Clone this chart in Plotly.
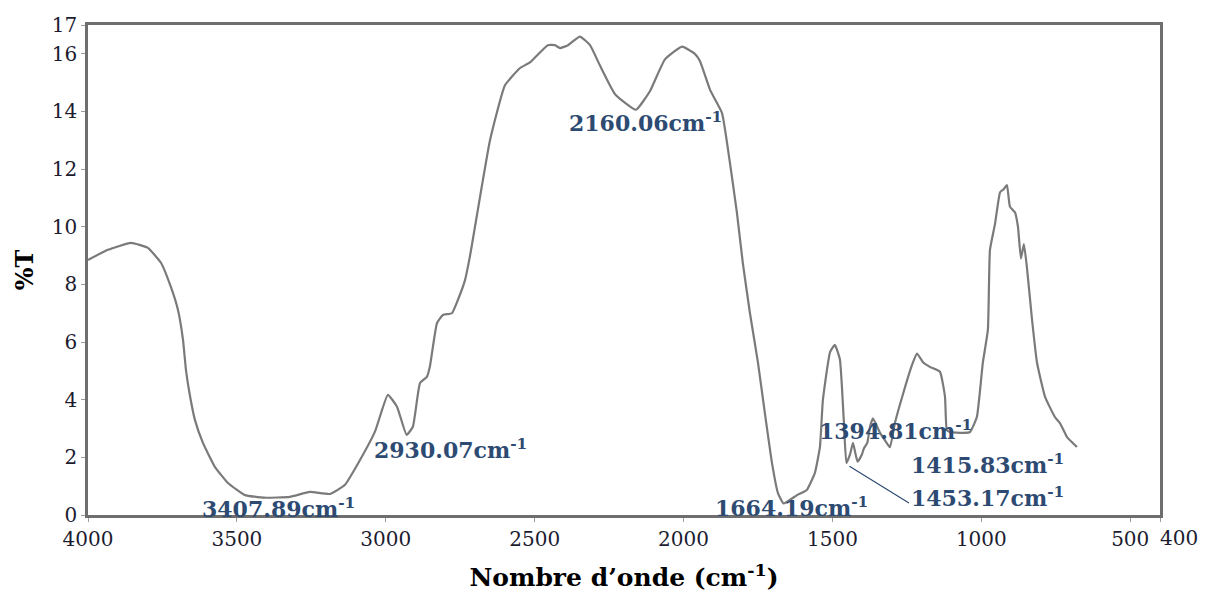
import plotly.graph_objects as go

# FT-IR spectrum: wavenumber (cm-1) vs transmittance (%T)
wavenumber = [4000, 3933, 3856, 3799, 3755, 3722, 3698, 3681, 3671, 3657,
              3641, 3614, 3574, 3530, 3473, 3407.89, 3322, 3255, 3187, 3137,
              3087, 3036, 2993, 2962, 2930.07, 2909, 2885, 2862, 2852, 2828,
              2808, 2778, 2758, 2734, 2717, 2650, 2600, 2550, 2516, 2456,
              2432, 2415, 2388, 2348, 2314, 2281, 2230, 2160.06, 2113, 2063,
              2005, 1962, 1945, 1911, 1871, 1844, 1821, 1801, 1777, 1750,
              1727, 1703, 1683, 1664.19, 1619, 1586, 1559, 1542, 1532, 1508,
              1492, 1475, 1462, 1453.17, 1441, 1431, 1415.83, 1401, 1394.81, 1383,
              1374, 1364, 1340, 1324, 1307, 1290, 1263, 1233, 1216, 1196,
              1173, 1139, 1122, 1116, 1105, 1062, 1038, 1015, 995, 978,
              971, 954, 937, 925, 914, 904, 887, 877, 867, 857,
              847, 830, 813, 786, 753, 736, 712, 679]
transmittance = [8.85, 9.2, 9.44, 9.27, 8.75, 7.92, 7.12, 6.08, 5.03, 4.1,
                 3.3, 2.5, 1.67, 1.11, 0.69, 0.6, 0.63, 0.8, 0.73, 1.05,
                 1.9, 2.9, 4.17, 3.75, 2.78, 3.06, 4.58, 4.79, 5.14, 6.66,
                 6.94, 7.0, 7.46, 8.15, 9.0, 13.0, 14.9, 15.5, 15.7, 16.3,
                 16.3, 16.2, 16.3, 16.6, 16.3, 15.6, 14.6, 14.06, 14.7, 15.8,
                 16.25, 16.0, 15.75, 14.75, 13.95, 12.2, 10.5, 8.75, 7.0, 5.28,
                 3.54, 1.8, 0.76, 0.4, 0.69, 0.87, 1.46, 2.36, 4.0, 5.65,
                 5.9, 5.4, 3.3, 1.8, 2.1, 2.5, 1.85, 2.1, 2.3, 2.5,
                 3.05, 3.35, 2.85, 2.6, 2.35, 3.2, 4.2, 5.2, 5.6, 5.3,
                 5.14, 4.97, 4.1, 2.95, 2.88, 2.85, 2.88, 3.4, 5.28, 6.42,
                 9.2, 10.1, 11.2, 11.3, 11.45, 10.7, 10.5, 10.0, 8.9, 9.4,
                 8.6, 6.8, 5.28, 4.1, 3.4, 3.19, 2.7, 2.36]

# Peak labels: (wavenumber text, label x, label y)
peak_labels = [
    ("3407.89", 3624, 0.26),
    ("2930.07", 3046, 2.3),
    ("2160.06", 2392, 13.65),
    ("1664.19", 1901, 0.28),
    ("1394.81", 1552, 2.95),
    ("1415.83", 1243, 1.77),
    ("1453.17", 1243, 0.63),
]

x_ticks = [4000, 3500, 3000, 2500, 2000, 1500, 1000, 500, 400]
x_tick_text = ["4000", "3500", "3000", "2500", "2000", "1500", "1000", "500", ""]
y_ticks = [0, 2, 4, 6, 8, 10, 12, 14, 16, 17]

serif = "DejaVu Serif"
label_color = "#2d4b72"
tick_color = "#1c1c30"

fig = go.Figure()
fig.add_trace(go.Scatter(
    x=wavenumber, y=transmittance, mode="lines",
    line=dict(color="#7a7a7a", width=2.2, shape="spline", smoothing=0.4),
    hoverinfo="x+y", showlegend=False,
))

annotations = []
for text, lx, ly in peak_labels:
    annotations.append(dict(
        x=lx, y=ly, xref="x", yref="y", xanchor="left", yanchor="middle",
        text=f"<b>{text}cm<sup>-1</sup></b>", showarrow=False,
        font=dict(family=serif, size=22, color=label_color),
    ))

# leader line from the 1453.17 band to its label
annotations.append(dict(
    x=1243, y=0.42, ax=1448, ay=1.72, xref="x", yref="y", axref="x", ayref="y",
    text="", showarrow=True, arrowhead=0, arrowwidth=1.2, arrowcolor=label_color,
))

# the 400 end label sits just right of the axis end
annotations.append(dict(
    x=400, y=0, xref="x", yref="paper", xanchor="left", yanchor="top",
    xshift=-2, yshift=-9, text="400", showarrow=False,
    font=dict(family=serif, size=20, color=tick_color),
))

fig.update_layout(
    width=1206, height=592,
    margin=dict(l=88, r=46, t=25, b=77),
    paper_bgcolor="white", plot_bgcolor="white",
    annotations=annotations,
    xaxis=dict(
        range=[4000, 400], tickvals=x_ticks, ticktext=x_tick_text,
        automargin=False,
        showgrid=False, zeroline=False,
        showline=True, mirror=True, linecolor="#6e6e6e", linewidth=2.5,
        ticks="outside", ticklen=4, tickcolor="#9a9a9a",
        tickfont=dict(family=serif, size=20, color=tick_color),
        title=dict(text="<b>Nombre d’onde (cm<sup>-1</sup>)</b>", standoff=20,
                   font=dict(family=serif, size=25, color="black")),
    ),
    yaxis=dict(
        range=[0, 17], tickvals=y_ticks,
        automargin=False,
        showgrid=False, zeroline=False,
        showline=True, mirror=True, linecolor="#6e6e6e", linewidth=2.5,
        ticks="outside", ticklen=4, tickcolor="#9a9a9a",
        tickfont=dict(family=serif, size=20, color=tick_color),
        title=dict(text="<b>%T</b>", standoff=12,
                   font=dict(family=serif, size=24, color="black")),
    ),
)

fig.write_html("out.html")
